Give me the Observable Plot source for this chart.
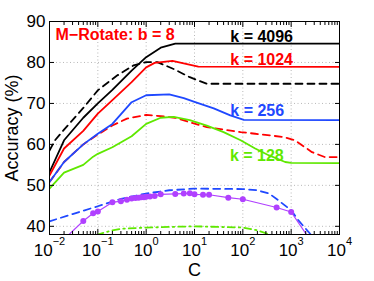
<!DOCTYPE html>
<html><head><meta charset="utf-8">
<script src="https://cdn.jsdelivr.net/npm/d3@7"></script>
<script src="https://cdn.jsdelivr.net/npm/@observablehq/plot@0.6"></script>
<style>body{margin:0;background:#fff;} svg{font-family:"Liberation Sans",Arial,sans-serif;}</style>
</head><body><div id="chart"></div>
<script>
// ---- data: [C, accuracy %] ----
const k4096 = [[0.01,53.2],[0.02,61],[0.05,66.5],[0.1,70],[0.2,73.3],[0.5,78],[1,81.3],[2,83.6],[4,84.6],[10000,84.6]];
const k4096b = [[0.01,58.5],[0.013,61],[0.02,63.6],[0.05,68.9],[0.1,73.2],[0.25,76.8],[0.55,79.3],[1,80.1],[1.7,80.1],[3.7,78.4],[8,76.4],[18,74.8],[10000,74.8]];
const k1024 = [[0.01,52.4],[0.02,59],[0.05,63.3],[0.1,67.5],[0.2,70.8],[0.5,75.2],[1,78.8],[1.5,79.9],[3.5,80.4],[7,79.6],[12,79],[10000,78.9]];
const k1024b = [[0.01,50.8],[0.02,55.7],[0.05,60],[0.1,62.4],[0.2,64.6],[0.4,66.3],[1,67.2],[2,66.9],[4,66.5],[8,65.4],[18,64.2],[90,63],[180,62.6],[700,61.8],[1200,61],[2700,58.1],[5000,56.9],[10000,56.9]];
const k256 = [[0.01,50.8],[0.02,55.7],[0.05,60],[0.1,62.6],[0.2,65],[0.5,70.3],[1,72],[3,72.2],[6,71.3],[10,70.4],[25,68.8],[55,67.1],[105,66],[10000,65.9]];
const k256b = [[0.01,41.2],[0.03,43.0],[0.1,44.9],[0.3,46.7],[1,48.0],[3,48.8],[10,49.2],[100,49.1],[200,48.8],[350,48],[550,46.3],[1000,43.9],[1400,41.5],[2300,38.6],[4000,35]];
const k128 = [[0.01,49.2],[0.02,53.1],[0.05,55.0],[0.08,57.0],[0.1,57.7],[0.2,59.3],[0.5,62],[1,65],[2,66.5],[3.7,66.7],[8,65.9],[18,64.6],[40,63],[90,61],[180,59],[350,57.3],[750,55.7],[1000,55.5],[10000,55.4]];
const k128b = [[0.05,35.5],[0.1,38],[0.2,39.0],[0.3,39.4],[1,39.7],[10,40],[100,39.7],[200,39.0],[400,37.8],[1000,35]];
const baseline = [[0.01,33.5],[0.05,41.3],[0.08,43.2],[0.1,43.6],[0.2,45.9],[0.3,46.1],[0.4,46.5],[0.5,46.8],[0.6,46.9],[0.7,47.0],[0.8,47.1],[0.9,47.1],[1,47.2],[1.2,47.3],[1.5,47.4],[2,47.8],[4,47.9],[6,48.0],[8,48.1],[10,47.8],[15,47.7],[20,47.7],[50,47.0],[100,46.6],[500,44.6],[1000,43.5],[5000,31.3]];

const xTicks = [0.01, 0.1, 1, 10, 100, 1000, 10000];
const yTicks = [40, 50, 60, 70, 80, 90];
const title = "M\u2212Rotate: b = 8";
const kLabels = ["k = 4096", "k = 1024", "k = 256", "k = 128"];

// ---- styling / placement ----
const xMinor = [];
for (let e = -2; e < 4; e++) for (let m = 2; m <= 9; m++) xMinor.push(m * Math.pow(10, e));
const labelPos = [[55, 86.3], [55, 80.6], [55, 68.2], [54, 57.1]];
const labelColor = ["#000000", "#ff0000", "#1f48ff", "#5fe800"];
const toRows = a => a.map(([C, acc]) => ({C, acc}));
const series = [
  {d: k4096, stroke: "#000000", dash: null},
  {d: k4096b, stroke: "#000000", dash: "7,5"},
  {d: k1024, stroke: "#ff0000", dash: null},
  {d: k1024b, stroke: "#ff0000", dash: "7,5"},
  {d: k256, stroke: "#1f48ff", dash: null},
  {d: k256b, stroke: "#1f48ff", dash: "7,5"},
  {d: k128, stroke: "#5fe800", dash: null},
  {d: k128b, stroke: "#5fe800", dash: "7,4,1.5,4"}
];
const grid = {stroke: "#b8b8b8", strokeOpacity: 1, strokeDasharray: "1,2.5"};
const lab = kLabels.map((t, i) => ({t, C: labelPos[i][0], acc: labelPos[i][1], c: labelColor[i]}));
const tickStyle = {tickFormat: () => "", label: null, stroke: "#000", strokeOpacity: 1};

const chart = Plot.plot({
  width: 374, height: 281,
  marginLeft: 49, marginRight: 35, marginTop: 21, marginBottom: 47,
  style: {fontFamily: "Liberation Sans, Arial, sans-serif", fontSize: "17px", background: "#fff", color: "#000"},
  x: {type: "log", domain: [0.01, 10000]},
  y: {domain: [38, 90]},
  marks: [
    Plot.gridX(xTicks, grid),
    Plot.gridY(yTicks, grid),
    ...series.map(s => Plot.line(toRows(s.d), {x: "C", y: "acc", stroke: s.stroke, strokeWidth: 1.8, strokeDasharray: s.dash, clip: true})),
    Plot.line(toRows(baseline), {x: "C", y: "acc", stroke: "#b040ff", strokeWidth: 1.2, clip: true}),
    Plot.dot(toRows(baseline), {x: "C", y: "acc", r: 3, fill: "#b040ff", stroke: "none", clip: true}),
    Plot.frame({stroke: "#000", strokeWidth: 1}),
    Plot.axisX(xTicks, {anchor: "bottom", tickSize: 0, tickPadding: 9, fontSize: 17, label: null, tickFormat: d => String(Math.round(Math.log10(d)))}),
    Plot.axisX(xTicks, {anchor: "bottom", tickSize: 5, dy: -5, ...tickStyle}),
    Plot.axisX(xMinor, {anchor: "bottom", tickSize: 3, dy: -3, ...tickStyle}),
    Plot.axisX(xTicks, {anchor: "top", tickSize: 5, dy: 5, ...tickStyle}),
    Plot.axisX(xMinor, {anchor: "top", tickSize: 3, dy: 3, ...tickStyle}),
    Plot.axisY(yTicks, {anchor: "left", tickSize: 0, tickPadding: 4, fontSize: 17, label: null}),
    Plot.axisY(yTicks, {anchor: "left", tickSize: 5, dx: 5, ...tickStyle}),
    Plot.axisY(yTicks, {anchor: "right", tickSize: 5, dx: -5, ...tickStyle}),
    Plot.text([title], {frameAnchor: "top-left", dx: 6, dy: 13, textAnchor: "start", lineAnchor: "middle", fill: "#ff0000", fontWeight: "bold", fontSize: 16}),
    Plot.text(lab, {x: "C", y: "acc", text: "t", fill: "c", textAnchor: "start", lineAnchor: "middle", fontWeight: "bold", fontSize: 16}),
    Plot.text(["Accuracy (%)"], {frameAnchor: "left", dx: -37, rotate: -90, textAnchor: "middle", lineAnchor: "middle", fontSize: 18}),
    Plot.text(["C"], {frameAnchor: "bottom", dy: 36, textAnchor: "middle", lineAnchor: "middle", fontSize: 18})
  ]
});
document.getElementById("chart").appendChild(chart);

// superscript exponents on the x tick labels
const NS = "http://www.w3.org/2000/svg";
chart.querySelectorAll('g[aria-label="x-axis tick label"] text').forEach(t => {
  const e = t.textContent;
  if (!e) return;
  t.textContent = "10";
  const s = document.createElementNS(NS, "tspan");
  s.setAttribute("dy", "-11");
  s.setAttribute("font-size", "11");
  s.textContent = e.replace("-", "\u2212");
  t.appendChild(s);
});
</script></body></html>
